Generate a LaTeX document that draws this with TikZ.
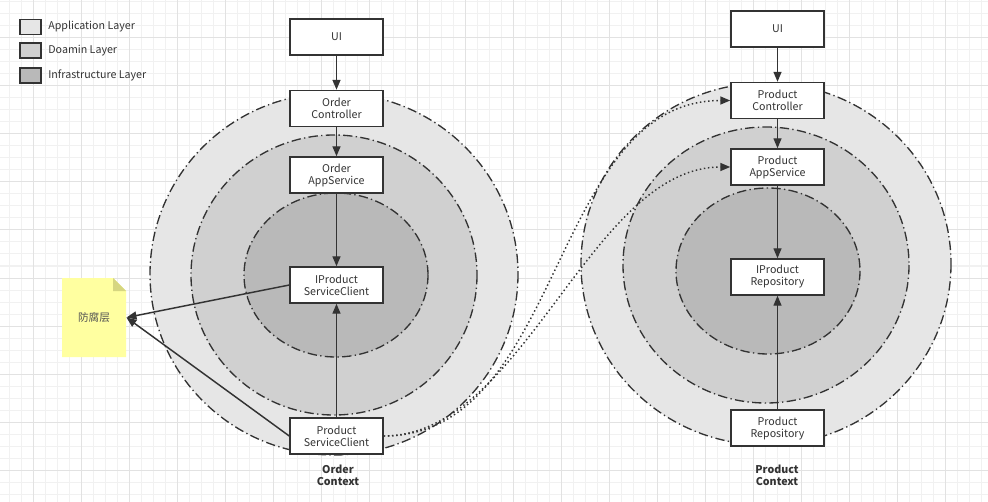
\documentclass[tikz,border=0pt]{standalone}
\usepackage{fontspec}
\setmainfont{Noto Sans CJK SC}
\usetikzlibrary{arrows.meta,positioning}

\definecolor{appgray}{RGB}{230,230,230}
\definecolor{domgray}{RGB}{208,208,208}
\definecolor{infgray}{RGB}{185,185,185}
\definecolor{linegray}{RGB}{51,51,51}
\definecolor{gridminor}{RGB}{241,241,241}
\definecolor{gridmajor}{RGB}{226,226,226}
\definecolor{noteyellow}{RGB}{255,255,160}
\definecolor{notefold}{RGB}{214,214,128}

\tikzset{every picture/.style={line width=0.75pt}}
\tikzset{
  box/.style={draw=linegray, fill=white, line width=1.1pt, minimum width=69.75pt, minimum height=27pt,
    inner sep=0pt, align=center, text=linegray, font=\fontsize{8}{9}\selectfont},
  legbox/.style={draw=linegray, line width=1.3pt, minimum width=15.75pt, minimum height=11.25pt, inner sep=0pt},
  legtext/.style={anchor=west, inner sep=0pt, text=linegray, font=\fontsize{8}{9}\selectfont},
  ctxlabel/.style={align=center, inner sep=0pt, text=linegray, font=\fontsize{8}{9}\selectfont\bfseries},
  layer/.style={draw=linegray, line width=1pt, dash pattern=on 7pt off 2.5pt on 1pt off 2.5pt},
  flow/.style={draw=linegray, line width=1.1pt, -{Triangle[length=7.5pt,width=6pt]}},
  call/.style={draw=linegray, line width=1.1pt, dotted, -{Triangle[length=7.5pt,width=6pt]}},
}

\begin{document}
\begin{tikzpicture}[x=0.75pt,y=0.75pt,yscale=-1,xscale=1]
\useasboundingbox (0,0) rectangle (988,502);

% grid
\foreach \gx in {9,21,...,981} \draw[gridminor] (\gx,0) -- (\gx,502);
\foreach \gy in {2,14,...,494} \draw[gridminor] (0,\gy) -- (988,\gy);
\foreach \gx in {33,81,...,945} \draw[gridmajor] (\gx,0) -- (\gx,502);
\foreach \gy in {38,86,...,470} \draw[gridmajor] (0,\gy) -- (988,\gy);

% legend
\node [legbox, fill=appgray] (legapp) at (30.5,27) {} ;
\node [legtext, right=4.5pt of legapp] {Application Layer} ;
\node [legbox, fill=domgray] (legdom) at (30.5,50.5) {} ;
\node [legtext, right=4.5pt of legdom] {Doamin Layer} ;
\node [legbox, fill=infgray] (leginf) at (30.5,75.5) {} ;
\node [legtext, right=4.5pt of leginf] {Infrastructure Layer} ;

% order context layers
\draw [layer, fill=appgray] (334,274) ellipse [x radius=184, y radius=181] ;
\draw [layer, fill=domgray] (334,275) ellipse [x radius=143, y radius=140] ;
\draw [layer, fill=infgray] (336,275) ellipse [x radius=92, y radius=82] ;

% product context layers
\draw [layer, fill=appgray] (766,264) ellipse [x radius=185, y radius=181] ;
\draw [layer, fill=domgray] (766,265) ellipse [x radius=143, y radius=138] ;
\draw [layer, fill=infgray] (768,271) ellipse [x radius=92, y radius=83] ;

% anti-corruption note
\fill [noteyellow] (62,278) -- (113,278) -- (126,291) -- (126,357) -- (62,357) -- cycle ;
\fill [notefold] (113,278) -- (126,291) -- (113,291) -- cycle ;
\node [inner sep=0pt, minimum width=48pt, minimum height=59.25pt, text=linegray!85, font=\fontsize{8}{9}\selectfont] (acl) at (94,317.5) {防腐层} ;

% order context
\node [box] (oui) at (336.5,37) {UI} ;
\node [box] (octl) at (336.5,108.5) {Order\\Controller} ;
\node [box] (oapp) at (336.5,175) {Order\\AppService} ;
\node [box] (isc) at (336.5,285) {IProduct\\ServiceClient} ;
\node [box] (psc) at (336.5,436) {Product\\ServiceClient} ;
\node [ctxlabel] (octx) at (338,475) {Order\\Context} ;

% product context
\node [box] (pui) at (777.5,29) {UI} ;
\node [box] (pctl) at (777.5,100.5) {Product\\Controller} ;
\node [box] (papp) at (777.5,167) {Product\\AppService} ;
\node [box] (irepo) at (777.5,277) {IProduct\\Repository} ;
\node [box] (prepo) at (777.5,428) {Product\\Repository} ;
\node [ctxlabel] (pctx) at (777,475) {Product\\Context} ;

\draw [flow] (oui) -- (octl) ;
\draw [flow] (octl) -- (oapp) ;
\draw [flow] (oapp) -- (isc) ;
\draw [flow] (psc) -- (isc) ;
\draw [flow] (isc.west) -- (acl.east) ;
\draw [flow] (psc.west) -- (acl.east) ;

\draw [flow] (pui) -- (pctl) ;
\draw [flow] (pctl) -- (papp) ;
\draw [flow] (papp) -- (irepo) ;
\draw [flow] (prepo) -- (irepo) ;

% remote calls
\draw [call] (psc.east) .. controls +(180,0) and +(-180,0) .. (pctl.west) ;
\draw [call] (psc.east) .. controls +(140,0) and +(-140,0) .. (papp.west) ;
\end{tikzpicture}
\end{document}
